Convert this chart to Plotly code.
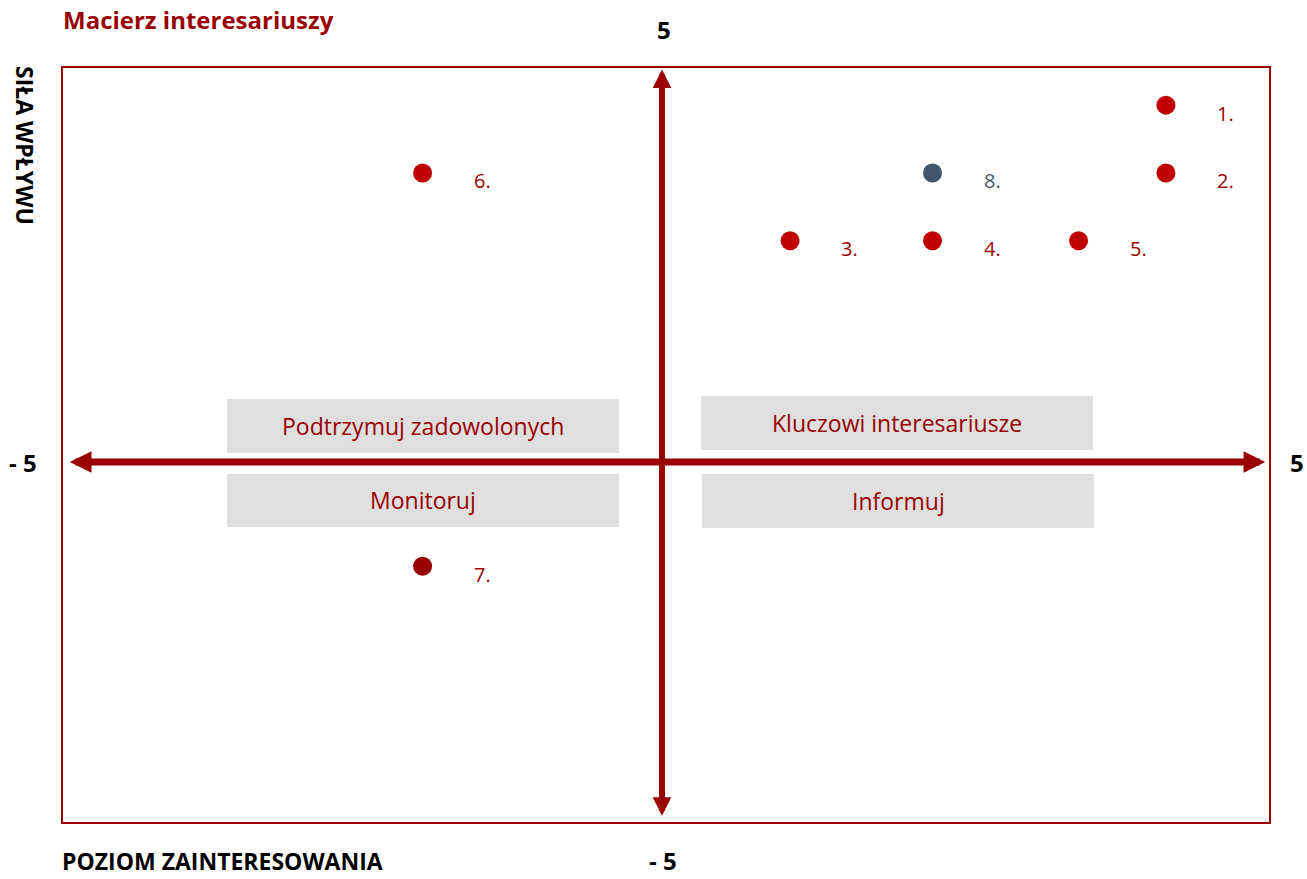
import plotly.graph_objects as go

# ---- data ----
labels = ["1.", "2.", "3.", "4.", "5.", "6.", "7.", "8."]
interest = [4.21, 4.21, 1.07, 2.26, 3.48, -2.0, -2.0, 2.26]      # POZIOM ZAINTERESOWANIA
influence = [4.79, 3.88, 2.97, 2.97, 2.97, 3.88, -1.40, 3.88]    # SIŁA WPŁYWU
point_colors = ["#C00000"] * 6 + ["#990000", "#44546A"]
label_colors = ["#A00000"] * 7 + ["#44546A"]

quadrants = ["Podtrzymuj zadowolonych", "Kluczowi interesariusze", "Monitoruj", "Informuj"]
axis_ticks = {"top": "5", "bottom": "- 5", "left": "- 5", "right": "5"}

DARK = "#9A0000"
FONT = "Open Sans"

# pixel geometry of the plot box
L, R, T, B = 62, 1270, 67, 823
W, H = 1307, 879


def px(x):
    return (x - L) / (R - L)


def py(y):
    return (B - y) / (B - T)


fig = go.Figure()

fig.add_trace(go.Scatter(
    x=interest, y=influence, mode="markers",
    marker=dict(size=19, color=point_colors, line=dict(width=0)),
    hoverinfo="skip", showlegend=False,
))

annotations = []
for xi, yi, lab, c in zip(interest, influence, labels, label_colors):
    annotations.append(dict(x=xi, y=yi, xref="x", yref="y", text=lab, showarrow=False,
                            xanchor="left", yanchor="middle", xshift=49, yshift=-8,
                            font=dict(family=FONT, size=20, color=c)))

# axes arrows
annotations.append(dict(x=5.04, y=0, ax=-4.96, ay=0, xref="x", yref="y", axref="x", ayref="y",
                        text="", showarrow=True, arrowside="end+start",
                        arrowhead=2, startarrowhead=2, arrowsize=0.62, startarrowsize=0.62,
                        arrowwidth=7, arrowcolor=DARK, standoff=0, startstandoff=0))
annotations.append(dict(x=0, y=5.27, ax=0, ay=-4.77, xref="x", yref="y", axref="x", ayref="y",
                        text="", showarrow=True, arrowside="end+start",
                        arrowhead=2, startarrowhead=2, arrowsize=0.62, startarrowsize=0.62,
                        arrowwidth=6, arrowcolor=DARK, standoff=0, startstandoff=0))

shapes = [dict(type="rect", xref="paper", yref="paper", x0=0, x1=1, y0=0, y1=1,
               line=dict(color=DARK, width=2), fillcolor="rgba(0,0,0,0)", layer="above")]

# quadrant label boxes
boxes = [(227, 619, 399, 453), (701, 1093, 396, 450), (227, 619, 474, 527), (702, 1094, 474, 528)]
for (x0, x1, y0, y1), txt in zip(boxes, quadrants):
    shapes.append(dict(type="rect", xref="paper", yref="paper", x0=px(x0), x1=px(x1),
                       y0=py(y1), y1=py(y0), fillcolor="#DFDFDF", line=dict(width=0), layer="below"))
    annotations.append(dict(x=px((x0 + x1) / 2), y=py((y0 + y1) / 2), xref="paper", yref="paper",
                            text=txt, showarrow=False, xanchor="center", yanchor="middle",
                            font=dict(family=FONT, size=23, color=DARK)))

# outer texts
annotations += [
    dict(x=px(61), y=py(19), xref="paper", yref="paper", text="<b>Macierz interesariuszy</b>",
         showarrow=False, xanchor="left", yanchor="middle",
         font=dict(family=FONT, size=24, color=DARK)),
    dict(x=px(664), y=py(29), xref="paper", yref="paper", text="<b>%s</b>" % axis_ticks["top"],
         showarrow=False, xanchor="center", yanchor="middle", font=dict(family=FONT, size=24, color="black")),
    dict(x=px(663), y=py(878), xref="paper", yref="paper", text="<b>%s</b>" % axis_ticks["bottom"],
         showarrow=False, xanchor="center", yanchor="bottom", borderpad=0,
         font=dict(family=FONT, size=24, color="black")),
    dict(x=px(23), y=py(462), xref="paper", yref="paper", text="<b>%s</b>" % axis_ticks["left"],
         showarrow=False, xanchor="center", yanchor="middle", font=dict(family=FONT, size=24, color="black")),
    dict(x=px(1297), y=py(462), xref="paper", yref="paper", text="<b>%s</b>" % axis_ticks["right"],
         showarrow=False, xanchor="center", yanchor="middle", font=dict(family=FONT, size=24, color="black")),
    dict(x=px(61), y=py(878), xref="paper", yref="paper", text="<b>POZIOM ZAINTERESOWANIA</b>",
         showarrow=False, xanchor="left", yanchor="bottom", borderpad=0,
         font=dict(family=FONT, size=23, color="black")),
    dict(x=px(25), y=py(145), xref="paper", yref="paper", text="<b>SIŁA WPŁYWU</b>", textangle=90,
         showarrow=False, xanchor="center", yanchor="middle", font=dict(family=FONT, size=23, color="black")),
]

fig.update_layout(
    width=W, height=H,
    margin=dict(l=L, r=W - R, t=T, b=H - B, pad=0),
    plot_bgcolor="white", paper_bgcolor="white",
    xaxis=dict(range=[(L - 662) / 119.7, (R - 662) / 119.7], visible=False, fixedrange=True),
    yaxis=dict(range=[(462 - B) / 74.5, (462 - T) / 74.5], visible=False, fixedrange=True),
    shapes=shapes, annotations=annotations, showlegend=False,
)

fig.write_html("out.html", config={"displayModeBar": False},
               post_script="document.body.style.margin='0';document.body.style.overflow='hidden';")
